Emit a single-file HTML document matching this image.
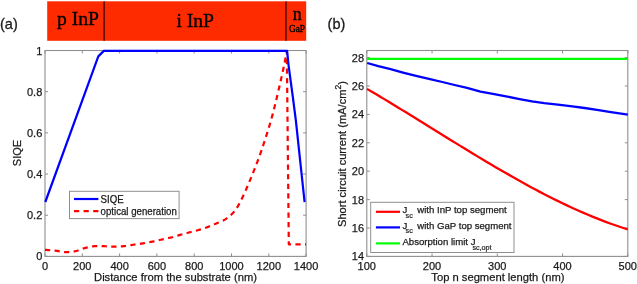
<!DOCTYPE html>
<html><head><meta charset="utf-8"><style>
html,body{margin:0;padding:0;background:#fff;}
body{width:637px;height:284px;overflow:hidden;font-family:"Liberation Sans",sans-serif;}
svg{display:block;will-change:transform;}
</style></head><body>
<svg width="637" height="284" viewBox="0 0 637 284">
<rect width="637" height="284" fill="#fff"/>
<rect x="47.2" y="1.3" width="259" height="39.5" fill="#ff2b00"/>
<line x1="104.1" y1="1.3" x2="104.1" y2="40.8" stroke="#000" stroke-width="1"/>
<line x1="286.0" y1="1.3" x2="286.0" y2="40.8" stroke="#000" stroke-width="1"/>
<text x="57.0" y="24.7" font-family="Liberation Serif" font-size="18.3" fill="#000" stroke="#000" stroke-width="0.35" textLength="42.0" lengthAdjust="spacingAndGlyphs">p InP</text>
<text x="176.4" y="26.7" font-family="Liberation Serif" font-size="18.6" fill="#000" stroke="#000" stroke-width="0.35" textLength="37.6" lengthAdjust="spacingAndGlyphs">i InP</text>
<text x="292.7" y="20.4" font-family="Liberation Serif" font-size="17.8" fill="#000" stroke="#000" stroke-width="0.35">n</text>
<text x="288.9" y="32.0" font-family="Liberation Serif" font-size="9.4" fill="#000" stroke="#000" stroke-width="0.35">GaP</text>
<text x="0" y="29" font-family="Liberation Sans" font-size="14.5" fill="#1a1a1a" stroke="#1a1a1a" stroke-width="0.3">(a)</text>
<text x="327.6" y="29" font-family="Liberation Sans" font-size="14.5" fill="#1a1a1a" stroke="#1a1a1a" stroke-width="0.3">(b)</text>
<rect x="45.0" y="50.5" width="261.1" height="205.89999999999998" fill="none" stroke="#8f8f8f" stroke-width="1.1"/>
<line x1="45.00" y1="256.4" x2="45.00" y2="253.39999999999998" stroke="#8f8f8f" stroke-width="1"/>
<line x1="45.00" y1="50.5" x2="45.00" y2="53.5" stroke="#8f8f8f" stroke-width="1"/>
<line x1="82.30" y1="256.4" x2="82.30" y2="253.39999999999998" stroke="#8f8f8f" stroke-width="1"/>
<line x1="82.30" y1="50.5" x2="82.30" y2="53.5" stroke="#8f8f8f" stroke-width="1"/>
<line x1="119.60" y1="256.4" x2="119.60" y2="253.39999999999998" stroke="#8f8f8f" stroke-width="1"/>
<line x1="119.60" y1="50.5" x2="119.60" y2="53.5" stroke="#8f8f8f" stroke-width="1"/>
<line x1="156.90" y1="256.4" x2="156.90" y2="253.39999999999998" stroke="#8f8f8f" stroke-width="1"/>
<line x1="156.90" y1="50.5" x2="156.90" y2="53.5" stroke="#8f8f8f" stroke-width="1"/>
<line x1="194.20" y1="256.4" x2="194.20" y2="253.39999999999998" stroke="#8f8f8f" stroke-width="1"/>
<line x1="194.20" y1="50.5" x2="194.20" y2="53.5" stroke="#8f8f8f" stroke-width="1"/>
<line x1="231.50" y1="256.4" x2="231.50" y2="253.39999999999998" stroke="#8f8f8f" stroke-width="1"/>
<line x1="231.50" y1="50.5" x2="231.50" y2="53.5" stroke="#8f8f8f" stroke-width="1"/>
<line x1="268.80" y1="256.4" x2="268.80" y2="253.39999999999998" stroke="#8f8f8f" stroke-width="1"/>
<line x1="268.80" y1="50.5" x2="268.80" y2="53.5" stroke="#8f8f8f" stroke-width="1"/>
<line x1="306.10" y1="256.4" x2="306.10" y2="253.39999999999998" stroke="#8f8f8f" stroke-width="1"/>
<line x1="306.10" y1="50.5" x2="306.10" y2="53.5" stroke="#8f8f8f" stroke-width="1"/>
<line x1="45.0" y1="256.40" x2="48.0" y2="256.40" stroke="#8f8f8f" stroke-width="1"/>
<line x1="306.1" y1="256.40" x2="303.1" y2="256.40" stroke="#8f8f8f" stroke-width="1"/>
<line x1="45.0" y1="215.22" x2="48.0" y2="215.22" stroke="#8f8f8f" stroke-width="1"/>
<line x1="306.1" y1="215.22" x2="303.1" y2="215.22" stroke="#8f8f8f" stroke-width="1"/>
<line x1="45.0" y1="174.04" x2="48.0" y2="174.04" stroke="#8f8f8f" stroke-width="1"/>
<line x1="306.1" y1="174.04" x2="303.1" y2="174.04" stroke="#8f8f8f" stroke-width="1"/>
<line x1="45.0" y1="132.86" x2="48.0" y2="132.86" stroke="#8f8f8f" stroke-width="1"/>
<line x1="306.1" y1="132.86" x2="303.1" y2="132.86" stroke="#8f8f8f" stroke-width="1"/>
<line x1="45.0" y1="91.68" x2="48.0" y2="91.68" stroke="#8f8f8f" stroke-width="1"/>
<line x1="306.1" y1="91.68" x2="303.1" y2="91.68" stroke="#8f8f8f" stroke-width="1"/>
<line x1="45.0" y1="50.50" x2="48.0" y2="50.50" stroke="#8f8f8f" stroke-width="1"/>
<line x1="306.1" y1="50.50" x2="303.1" y2="50.50" stroke="#8f8f8f" stroke-width="1"/>
<text x="45.00" y="270" text-anchor="middle" font-family="Liberation Sans" font-size="11" fill="#1a1a1a" stroke="#1a1a1a" stroke-width="0.25">0</text>
<text x="82.30" y="270" text-anchor="middle" font-family="Liberation Sans" font-size="11" fill="#1a1a1a" stroke="#1a1a1a" stroke-width="0.25">200</text>
<text x="119.60" y="270" text-anchor="middle" font-family="Liberation Sans" font-size="11" fill="#1a1a1a" stroke="#1a1a1a" stroke-width="0.25">400</text>
<text x="156.90" y="270" text-anchor="middle" font-family="Liberation Sans" font-size="11" fill="#1a1a1a" stroke="#1a1a1a" stroke-width="0.25">600</text>
<text x="194.20" y="270" text-anchor="middle" font-family="Liberation Sans" font-size="11" fill="#1a1a1a" stroke="#1a1a1a" stroke-width="0.25">800</text>
<text x="231.50" y="270" text-anchor="middle" font-family="Liberation Sans" font-size="11" fill="#1a1a1a" stroke="#1a1a1a" stroke-width="0.25">1000</text>
<text x="268.80" y="270" text-anchor="middle" font-family="Liberation Sans" font-size="11" fill="#1a1a1a" stroke="#1a1a1a" stroke-width="0.25">1200</text>
<text x="306.10" y="270" text-anchor="middle" font-family="Liberation Sans" font-size="11" fill="#1a1a1a" stroke="#1a1a1a" stroke-width="0.25">1400</text>
<text x="42.3" y="260.40" text-anchor="end" font-family="Liberation Sans" font-size="11" fill="#1a1a1a" stroke="#1a1a1a" stroke-width="0.25">0</text>
<text x="42.3" y="219.22" text-anchor="end" font-family="Liberation Sans" font-size="11" fill="#1a1a1a" stroke="#1a1a1a" stroke-width="0.25">0.2</text>
<text x="42.3" y="178.04" text-anchor="end" font-family="Liberation Sans" font-size="11" fill="#1a1a1a" stroke="#1a1a1a" stroke-width="0.25">0.4</text>
<text x="42.3" y="136.86" text-anchor="end" font-family="Liberation Sans" font-size="11" fill="#1a1a1a" stroke="#1a1a1a" stroke-width="0.25">0.6</text>
<text x="42.3" y="95.68" text-anchor="end" font-family="Liberation Sans" font-size="11" fill="#1a1a1a" stroke="#1a1a1a" stroke-width="0.25">0.8</text>
<text x="42.3" y="54.50" text-anchor="end" font-family="Liberation Sans" font-size="11" fill="#1a1a1a" stroke="#1a1a1a" stroke-width="0.25">1</text>
<text x="175.5" y="281.3" text-anchor="middle" font-family="Liberation Sans" font-size="11.2" fill="#1a1a1a" stroke="#1a1a1a" stroke-width="0.25">Distance from the substrate (nm)</text>
<text x="0" y="0" text-anchor="middle" font-family="Liberation Sans" font-size="11" fill="#1a1a1a" stroke="#1a1a1a" stroke-width="0.25" transform="translate(21.2,153) rotate(-90)">SIQE</text>
<polyline points="45.00,249.80 46.33,249.92 48.20,250.08 50.41,250.27 52.74,250.48 55.01,250.69 57.00,250.90 58.73,251.13 60.37,251.40 61.94,251.68 63.46,251.93 64.97,252.11 66.50,252.20 68.03,252.19 69.53,252.11 71.02,251.97 72.50,251.77 73.99,251.51 75.50,251.20 77.01,250.79 78.53,250.28 80.05,249.71 81.58,249.12 83.13,248.57 84.70,248.10 86.31,247.69 87.95,247.31 89.61,246.96 91.26,246.65 92.90,246.39 94.50,246.20 96.05,246.08 97.56,246.04 99.04,246.05 100.53,246.09 102.05,246.15 103.60,246.20 105.20,246.27 106.84,246.37 108.49,246.48 110.16,246.59 111.83,246.67 113.50,246.70 115.21,246.68 116.99,246.62 118.76,246.53 120.48,246.43 122.08,246.31 123.50,246.20 124.61,246.10 125.42,246.00 126.11,245.90 126.86,245.77 127.83,245.61 129.20,245.40 131.08,245.12 133.36,244.78 135.86,244.41 138.42,244.02 140.86,243.64 143.00,243.30 144.84,243.00 146.53,242.71 148.09,242.44 149.57,242.17 151.03,241.89 152.50,241.60 153.94,241.30 155.30,241.00 156.63,240.69 157.98,240.37 159.39,240.04 160.90,239.70 162.56,239.34 164.35,238.97 166.19,238.59 168.04,238.20 169.83,237.80 171.50,237.40 173.02,237.00 174.41,236.59 175.76,236.18 177.10,235.76 178.49,235.34 180.00,234.90 181.65,234.45 183.39,233.98 185.19,233.50 187.00,233.02 188.78,232.55 190.50,232.10 192.14,231.68 193.74,231.27 195.31,230.88 196.87,230.48 198.43,230.06 200.00,229.60 201.61,229.09 203.24,228.55 204.88,227.99 206.48,227.41 208.03,226.85 209.50,226.30 210.84,225.79 212.08,225.31 213.26,224.83 214.43,224.34 215.66,223.80 217.00,223.20 218.46,222.56 220.01,221.91 221.62,221.22 223.24,220.46 224.85,219.60 226.40,218.60 227.92,217.48 229.44,216.26 230.95,214.93 232.42,213.50 233.84,211.96 235.20,210.30 236.47,208.52 237.67,206.63 238.81,204.62 239.93,202.51 241.05,200.30 242.20,198.00 243.37,195.59 244.53,193.06 245.69,190.43 246.86,187.73 248.03,184.98 249.20,182.20 250.38,179.39 251.56,176.54 252.75,173.64 253.94,170.68 255.12,167.67 256.30,164.60 257.45,161.57 258.56,158.60 259.67,155.58 260.81,152.39 262.01,148.90 263.30,145.00 264.70,140.71 266.19,136.14 267.73,131.27 269.31,126.11 270.91,120.66 272.50,114.90 274.15,108.51 275.89,101.43 277.64,94.05 279.33,86.77 280.87,79.99 282.20,74.10 283.32,68.98 284.28,64.29 285.11,60.10 285.80,56.47 286.36,53.48 286.80,51.20 288.80,244.30 306.00,244.30" fill="none" stroke="#ff0000" stroke-width="2.2" stroke-dasharray="5.2,4.4" stroke-linejoin="round"/>
<polyline points="45.30,202.00 98.30,56.40 103.80,50.90 287.10,50.90 288.50,64.80 292.70,96.00 295.80,120.00 304.60,202.10" fill="none" stroke="#0000ff" stroke-width="2.2" stroke-linejoin="round"/>
<rect x="69.5" y="191.3" width="109.6" height="27.3" fill="#fff" stroke="#8f8f8f" stroke-width="1"/>
<line x1="74" y1="199" x2="98.4" y2="199" stroke="#0000ff" stroke-width="2.2"/>
<line x1="74" y1="211.1" x2="98.4" y2="211.1" stroke="#ff0000" stroke-width="2.2" stroke-dasharray="5.2,4.4"/>
<text x="100.6" y="202.5" font-family="Liberation Sans" font-size="10.2" fill="#1a1a1a" stroke="#1a1a1a" stroke-width="0.25" textLength="23.2" lengthAdjust="spacingAndGlyphs">SIQE</text>
<text x="100.6" y="214.5" font-family="Liberation Sans" font-size="10.2" fill="#1a1a1a" stroke="#1a1a1a" stroke-width="0.25" textLength="76.2" lengthAdjust="spacingAndGlyphs">optical generation</text>
<rect x="366.8" y="50.5" width="260.99999999999994" height="205.89999999999998" fill="none" stroke="#8f8f8f" stroke-width="1.1"/>
<line x1="366.80" y1="256.4" x2="366.80" y2="253.39999999999998" stroke="#8f8f8f" stroke-width="1"/>
<line x1="366.80" y1="50.5" x2="366.80" y2="53.5" stroke="#8f8f8f" stroke-width="1"/>
<line x1="432.05" y1="256.4" x2="432.05" y2="253.39999999999998" stroke="#8f8f8f" stroke-width="1"/>
<line x1="432.05" y1="50.5" x2="432.05" y2="53.5" stroke="#8f8f8f" stroke-width="1"/>
<line x1="497.30" y1="256.4" x2="497.30" y2="253.39999999999998" stroke="#8f8f8f" stroke-width="1"/>
<line x1="497.30" y1="50.5" x2="497.30" y2="53.5" stroke="#8f8f8f" stroke-width="1"/>
<line x1="562.55" y1="256.4" x2="562.55" y2="253.39999999999998" stroke="#8f8f8f" stroke-width="1"/>
<line x1="562.55" y1="50.5" x2="562.55" y2="53.5" stroke="#8f8f8f" stroke-width="1"/>
<line x1="627.80" y1="256.4" x2="627.80" y2="253.39999999999998" stroke="#8f8f8f" stroke-width="1"/>
<line x1="627.80" y1="50.5" x2="627.80" y2="53.5" stroke="#8f8f8f" stroke-width="1"/>
<line x1="366.8" y1="256.40" x2="369.8" y2="256.40" stroke="#8f8f8f" stroke-width="1"/>
<line x1="627.8" y1="256.40" x2="624.8" y2="256.40" stroke="#8f8f8f" stroke-width="1"/>
<line x1="366.8" y1="228.00" x2="369.8" y2="228.00" stroke="#8f8f8f" stroke-width="1"/>
<line x1="627.8" y1="228.00" x2="624.8" y2="228.00" stroke="#8f8f8f" stroke-width="1"/>
<line x1="366.8" y1="199.60" x2="369.8" y2="199.60" stroke="#8f8f8f" stroke-width="1"/>
<line x1="627.8" y1="199.60" x2="624.8" y2="199.60" stroke="#8f8f8f" stroke-width="1"/>
<line x1="366.8" y1="171.20" x2="369.8" y2="171.20" stroke="#8f8f8f" stroke-width="1"/>
<line x1="627.8" y1="171.20" x2="624.8" y2="171.20" stroke="#8f8f8f" stroke-width="1"/>
<line x1="366.8" y1="142.80" x2="369.8" y2="142.80" stroke="#8f8f8f" stroke-width="1"/>
<line x1="627.8" y1="142.80" x2="624.8" y2="142.80" stroke="#8f8f8f" stroke-width="1"/>
<line x1="366.8" y1="114.40" x2="369.8" y2="114.40" stroke="#8f8f8f" stroke-width="1"/>
<line x1="627.8" y1="114.40" x2="624.8" y2="114.40" stroke="#8f8f8f" stroke-width="1"/>
<line x1="366.8" y1="86.00" x2="369.8" y2="86.00" stroke="#8f8f8f" stroke-width="1"/>
<line x1="627.8" y1="86.00" x2="624.8" y2="86.00" stroke="#8f8f8f" stroke-width="1"/>
<line x1="366.8" y1="57.60" x2="369.8" y2="57.60" stroke="#8f8f8f" stroke-width="1"/>
<line x1="627.8" y1="57.60" x2="624.8" y2="57.60" stroke="#8f8f8f" stroke-width="1"/>
<text x="366.80" y="270" text-anchor="middle" font-family="Liberation Sans" font-size="11" fill="#1a1a1a" stroke="#1a1a1a" stroke-width="0.25">100</text>
<text x="432.05" y="270" text-anchor="middle" font-family="Liberation Sans" font-size="11" fill="#1a1a1a" stroke="#1a1a1a" stroke-width="0.25">200</text>
<text x="497.30" y="270" text-anchor="middle" font-family="Liberation Sans" font-size="11" fill="#1a1a1a" stroke="#1a1a1a" stroke-width="0.25">300</text>
<text x="562.55" y="270" text-anchor="middle" font-family="Liberation Sans" font-size="11" fill="#1a1a1a" stroke="#1a1a1a" stroke-width="0.25">400</text>
<text x="627.80" y="270" text-anchor="middle" font-family="Liberation Sans" font-size="11" fill="#1a1a1a" stroke="#1a1a1a" stroke-width="0.25">500</text>
<text x="364.10" y="260.40" text-anchor="end" font-family="Liberation Sans" font-size="11" fill="#1a1a1a" stroke="#1a1a1a" stroke-width="0.25">14</text>
<text x="364.10" y="232.00" text-anchor="end" font-family="Liberation Sans" font-size="11" fill="#1a1a1a" stroke="#1a1a1a" stroke-width="0.25">16</text>
<text x="364.10" y="203.60" text-anchor="end" font-family="Liberation Sans" font-size="11" fill="#1a1a1a" stroke="#1a1a1a" stroke-width="0.25">18</text>
<text x="364.10" y="175.20" text-anchor="end" font-family="Liberation Sans" font-size="11" fill="#1a1a1a" stroke="#1a1a1a" stroke-width="0.25">20</text>
<text x="364.10" y="146.80" text-anchor="end" font-family="Liberation Sans" font-size="11" fill="#1a1a1a" stroke="#1a1a1a" stroke-width="0.25">22</text>
<text x="364.10" y="118.40" text-anchor="end" font-family="Liberation Sans" font-size="11" fill="#1a1a1a" stroke="#1a1a1a" stroke-width="0.25">24</text>
<text x="364.10" y="90.00" text-anchor="end" font-family="Liberation Sans" font-size="11" fill="#1a1a1a" stroke="#1a1a1a" stroke-width="0.25">26</text>
<text x="364.10" y="61.60" text-anchor="end" font-family="Liberation Sans" font-size="11" fill="#1a1a1a" stroke="#1a1a1a" stroke-width="0.25">28</text>
<text x="497.9" y="281.3" text-anchor="middle" font-family="Liberation Sans" font-size="11.2" fill="#1a1a1a" stroke="#1a1a1a" stroke-width="0.25">Top n segment length (nm)</text>
<text x="0" y="0" font-family="Liberation Sans" font-size="11.1" fill="#1a1a1a" stroke="#1a1a1a" stroke-width="0.25" transform="translate(345.6,227) rotate(-90)">Short circuit current (mA/cm<tspan dy="-5" font-size="8.5">2</tspan><tspan dy="5">)</tspan></text>
<line x1="366.8" y1="58.9" x2="627.8" y2="58.9" stroke="#00ff00" stroke-width="2.3"/>
<polyline points="367.20,63.00 378.30,66.10 390.60,69.20 403.00,72.60 416.00,75.90 430.00,79.20 442.30,82.00 454.60,85.00 467.00,87.90 480.50,91.60 491.60,93.70 507.30,96.60 519.60,99.10 532.00,101.40 544.30,103.20 560.00,104.90 572.30,106.40 584.60,108.00 597.00,109.90 609.30,111.90 627.80,114.60" fill="none" stroke="#0000ff" stroke-width="2.3" stroke-linejoin="round"/>
<polyline points="367.00,88.87 371.42,91.46 375.84,94.08 380.26,96.71 384.68,99.37 389.10,102.03 393.52,104.71 397.94,107.40 402.36,110.11 406.78,112.82 411.20,115.54 415.62,118.27 420.04,121.00 424.46,123.74 428.88,126.48 433.31,129.22 437.73,131.96 442.15,134.70 446.57,137.43 450.99,140.16 455.41,142.89 459.83,145.61 464.25,148.31 468.67,151.01 473.09,153.70 477.51,156.37 481.93,159.03 486.35,161.67 490.77,164.30 495.19,166.90 499.61,169.49 504.03,172.06 508.45,174.60 512.87,177.12 517.29,179.61 521.71,182.07 526.13,184.51 530.55,186.91 534.97,189.29 539.39,191.63 543.81,193.94 548.23,196.21 552.65,198.44 557.07,200.64 561.49,202.79 565.92,204.91 570.34,206.98 574.76,209.00 579.18,210.99 583.60,212.92 588.02,214.81 592.44,216.64 596.86,218.43 601.28,220.16 605.70,221.84 610.12,223.46 614.54,225.02 618.96,226.53 623.38,227.98 627.80,229.36" fill="none" stroke="#ff0000" stroke-width="2.3" stroke-linejoin="round"/>
<rect x="370.7" y="202.3" width="143.3" height="50.2" fill="#fff" stroke="#8f8f8f" stroke-width="1"/>
<line x1="375.9" y1="211.8" x2="400" y2="211.8" stroke="#ff0000" stroke-width="2.2"/>
<line x1="375.9" y1="227.4" x2="400" y2="227.4" stroke="#0000ff" stroke-width="2.2"/>
<line x1="375.9" y1="243.4" x2="400" y2="243.4" stroke="#00ff00" stroke-width="2.2"/>
<text x="402.4" y="213.0" font-family="Liberation Sans" font-size="9.6" fill="#1a1a1a" stroke="#1a1a1a" stroke-width="0.25">J</text>
<text x="405.6" y="217.6" font-family="Liberation Sans" font-size="7.2" fill="#1a1a1a" stroke="#1a1a1a" stroke-width="0.2">sc</text>
<text x="417.3" y="213.0" font-family="Liberation Sans" font-size="9.6" fill="#1a1a1a" stroke="#1a1a1a" stroke-width="0.25">with InP top segment</text>
<text x="402.4" y="228.8" font-family="Liberation Sans" font-size="9.6" fill="#1a1a1a" stroke="#1a1a1a" stroke-width="0.25">J</text>
<text x="405.6" y="233.4" font-family="Liberation Sans" font-size="7.2" fill="#1a1a1a" stroke="#1a1a1a" stroke-width="0.2">sc</text>
<text x="417.3" y="228.8" font-family="Liberation Sans" font-size="9.6" fill="#1a1a1a" stroke="#1a1a1a" stroke-width="0.25">with GaP top segment</text>
<text x="402.4" y="244.6" font-family="Liberation Sans" font-size="9.6" fill="#1a1a1a" stroke="#1a1a1a" stroke-width="0.25">Absorption limit J</text>
<text x="472.4" y="249.6" font-family="Liberation Sans" font-size="7.2" fill="#1a1a1a" stroke="#1a1a1a" stroke-width="0.2">sc,opt</text>
</svg>
</body></html>
